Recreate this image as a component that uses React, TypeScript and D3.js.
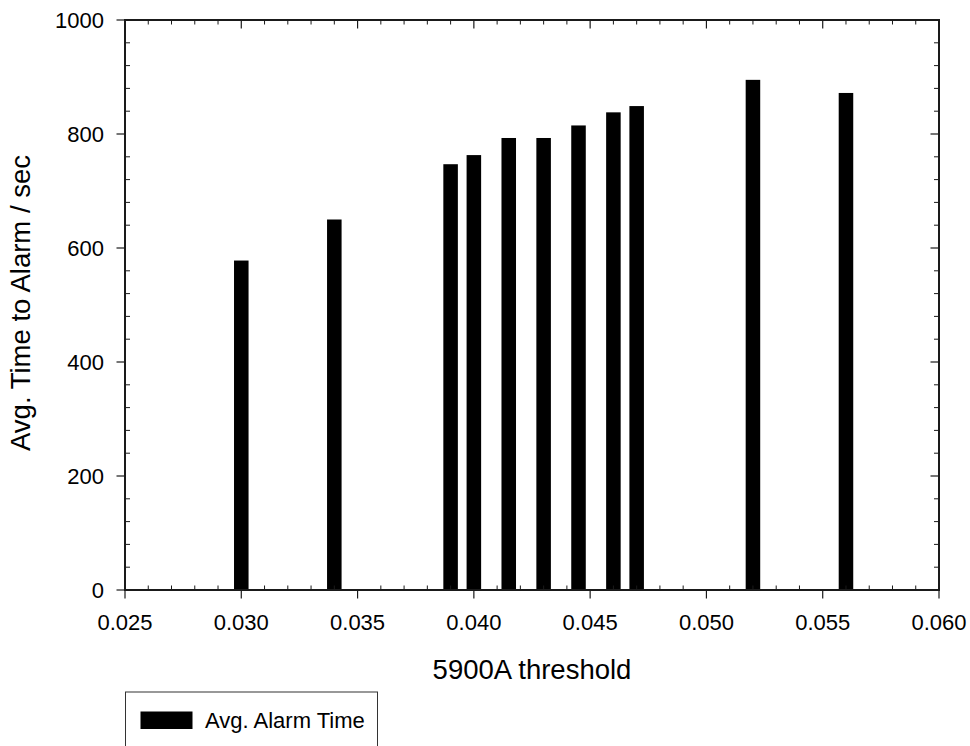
import React from "react";
import * as d3 from "d3";

const thresholds = [0.030, 0.034, 0.039, 0.040, 0.0415, 0.043, 0.0445, 0.046, 0.047, 0.052, 0.056];
const alarmTimes = [578, 650, 747, 763, 793, 793, 815, 838, 849, 895, 872];
const xTickValues = [0.025, 0.03, 0.035, 0.04, 0.045, 0.05, 0.055, 0.06];
const yTickValues = [0, 200, 400, 600, 800, 1000];
const seriesName = "Avg. Alarm Time";
const xTitle = "5900A threshold";
const yTitle = "Avg. Time to Alarm / sec";

const W = 970, H = 746;
const L = 125, R = 939, T = 20, B = 590;
const FONT = "'Liberation Sans', Arial, sans-serif";

export default function App() {
  const x = d3.scaleLinear().domain([0.025, 0.06]).range([L, R]);
  const y = d3.scaleLinear().domain([0, 1000]).range([B, T]);
  const xMinor = d3.range(25, 61, 1).map((v) => v / 1000).filter((v) => !xTickValues.some((t) => Math.abs(t - v) < 1e-9));
  const yMinor = d3.range(0, 1001, 40).filter((v) => !yTickValues.includes(v));
  const barW = x(0.025 + 0.000625) - x(0.025);
  const ax = "#1a1a1a";
  return (
    <svg width={W} height={H} style={{ position: "absolute", left: 0, top: 0, background: "#fff" }}>
      <rect x={0} y={0} width={W} height={H} fill="#fff" />
      {thresholds.map((t, i) => (
        <rect key={i} x={x(t) - barW / 2} y={y(alarmTimes[i])} width={barW} height={B - y(alarmTimes[i])} fill="#000" />
      ))}
      {xMinor.map((v, i) => (
        <g key={"xm" + i} stroke={ax} strokeWidth={1}>
          <line x1={x(v)} x2={x(v)} y1={B} y2={B - 4.5} />
          <line x1={x(v)} x2={x(v)} y1={T} y2={T + 4.5} />
        </g>
      ))}
      {yMinor.map((v, i) => (
        <g key={"ym" + i} stroke={ax} strokeWidth={1}>
          <line x1={L} x2={L + 5} y1={y(v)} y2={y(v)} />
          <line x1={R} x2={R - 5} y1={y(v)} y2={y(v)} />
        </g>
      ))}
      {xTickValues.map((v, i) => (
        <g key={"xM" + i}>
          <line x1={x(v)} x2={x(v)} y1={B} y2={B + 8.5} stroke={ax} strokeWidth={1.2} />
          <line x1={x(v)} x2={x(v)} y1={T} y2={T + 8.5} stroke={ax} strokeWidth={1.2} />
          <text x={x(v)} y={630} textAnchor="middle" fontFamily={FONT} fontSize={22} fill="#000">
            {v.toFixed(3)}
          </text>
        </g>
      ))}
      {yTickValues.map((v, i) => (
        <g key={"yM" + i}>
          <line x1={L} x2={L - 8.5} y1={y(v)} y2={y(v)} stroke={ax} strokeWidth={1.2} />
          <line x1={R} x2={R - 8.5} y1={y(v)} y2={y(v)} stroke={ax} strokeWidth={1.2} />
          <text x={104} y={y(v) + 7.5} textAnchor="end" fontFamily={FONT} fontSize={22} fill="#000">
            {v}
          </text>
        </g>
      ))}
      <rect x={L} y={T} width={R - L} height={B - T} fill="none" stroke={ax} strokeWidth={2} />
      <text x={(L + R) / 2} y={679} textAnchor="middle" fontFamily={FONT} fontSize={27.5} fill="#000">
        {xTitle}
      </text>
      <text transform={`translate(30,${(T + B) / 2 - 2}) rotate(-90)`} textAnchor="middle" fontFamily={FONT} fontSize={27.5} fill="#000">
        {yTitle}
      </text>
      <rect x={125.5} y={692} width={252} height={70} fill="#fff" stroke="#333" strokeWidth={1} />
      <rect x={140.5} y={711.5} width={52} height={17.5} fill="#000" />
      <text x={205} y={728} fontFamily={FONT} fontSize={22} fill="#000">
        {seriesName}
      </text>
    </svg>
  );
}
